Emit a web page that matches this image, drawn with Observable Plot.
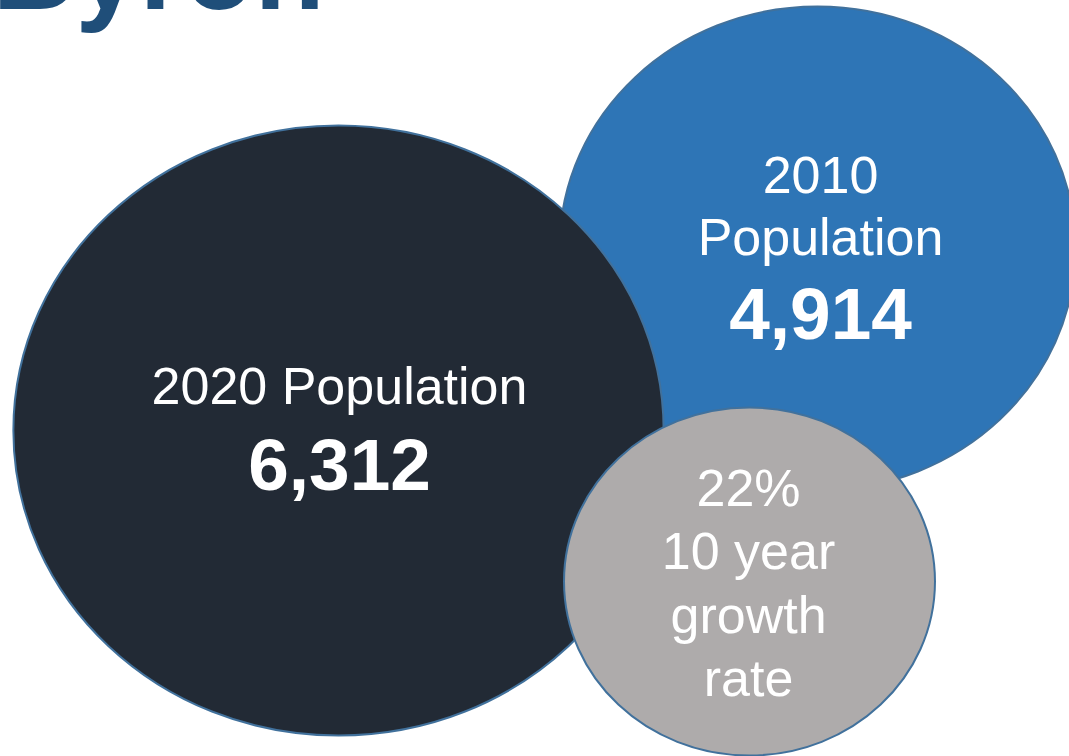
<!DOCTYPE html>
<html>
<head>
<meta charset="utf-8">
<script src="https://cdn.jsdelivr.net/npm/d3@7"></script>
<script src="https://cdn.jsdelivr.net/npm/@observablehq/plot@0.6"></script>
<style>
  html, body { margin: 0; padding: 0; background: #ffffff; overflow: hidden; }
  #chart svg { display: block; }
</style>
</head>
<body>
<div id="chart"></div>
<script>
// ---- data ----
const place = "Byron";
const keys = ["2010", "2020", "growth"];
const years = ["2010", "2020"];
const populations = [4914, 6312];
const growthRate = 22;               // percent, 10-year
const growthWords = ["10 year", "growth", "rate"];

// ---- layout / style (chart units, not data) ----
const bubbleCx = [817, 338, 749];
const bubbleCy = [248, 430, 581];
const bubbleR  = [242, 305, 174];
const bubbleFill = ["#2E75B6", "#222A35", "#AEABAB"];
const textDx = [3, 1, -1];
const aspect = 1.066;                 // bubbles are slightly wider than tall

// ellipse symbol for the dot mark (size = pi * r^2)
const ellipse = {
  draw(ctx, size) {
    const ry = Math.sqrt(size / Math.PI), rx = ry * aspect, k = 0.5522847498;
    ctx.moveTo(rx, 0);
    ctx.bezierCurveTo(rx, k * ry, k * rx, ry, 0, ry);
    ctx.bezierCurveTo(-k * rx, ry, -rx, k * ry, -rx, 0);
    ctx.bezierCurveTo(-rx, -k * ry, -k * rx, -ry, 0, -ry);
    ctx.bezierCurveTo(k * rx, -ry, rx, -k * ry, rx, 0);
    ctx.closePath();
  }
};

const bubbles = keys.map((key, i) => ({key, cx: bubbleCx[i], cy: bubbleCy[i], r: bubbleR[i]}));

const fmt = d3.format(",");
// text lines: [bubble index, text, bold, baseline offset from bubble centre]
const lineSpec = [
  [0, years[0], false, -56],
  [0, "Population", false, 6],
  [0, fmt(populations[0]), true, 90],
  [1, `${years[1]} Population`, false, -27],
  [1, fmt(populations[1]), true, 59],
  [2, `${growthRate}%`, false, -76],
  [2, growthWords[0], false, -13],
  [2, growthWords[1], false, 51],
  [2, growthWords[2], false, 114]
];
const lines = lineSpec.map(([i, text, bold, off]) => ({
  text, bold, x: bubbleCx[i] + textDx[i], y: bubbleCy[i] + off
}));

const chart = Plot.plot({
  width: 1069,
  height: 756,
  margin: 0,
  x: {domain: [0, 1069], range: [0, 1069], axis: null},
  y: {domain: [0, 756], range: [0, 756], axis: null},
  r: {type: "identity"},
  color: {domain: keys, range: bubbleFill},
  style: {background: "#ffffff", fontFamily: "'Liberation Sans', Arial, sans-serif"},
  marks: [
    Plot.text([place], {
      text: d => d, frameAnchor: "top-left", textAnchor: "start", lineAnchor: "bottom",
      dx: -8, dy: 8, fontSize: 115, fontWeight: "bold", fill: "#1F4E79"
    }),
    Plot.dot(bubbles, {
      x: "cx", y: "cy", r: "r", fill: "key", symbol: ellipse, sort: null,
      stroke: "#41719C", strokeWidth: 2, fillOpacity: 1
    }),
    Plot.text(lines.filter(d => !d.bold), {
      x: "x", y: "y", text: "text", lineAnchor: "bottom", textAnchor: "middle",
      fontSize: 52, fill: "#ffffff"
    }),
    Plot.text(lines.filter(d => d.bold), {
      x: "x", y: "y", text: "text", lineAnchor: "bottom", textAnchor: "middle",
      fontSize: 73, fontWeight: "bold", fill: "#ffffff"
    })
  ]
});
document.getElementById("chart").appendChild(chart);
</script>
</body>
</html>
